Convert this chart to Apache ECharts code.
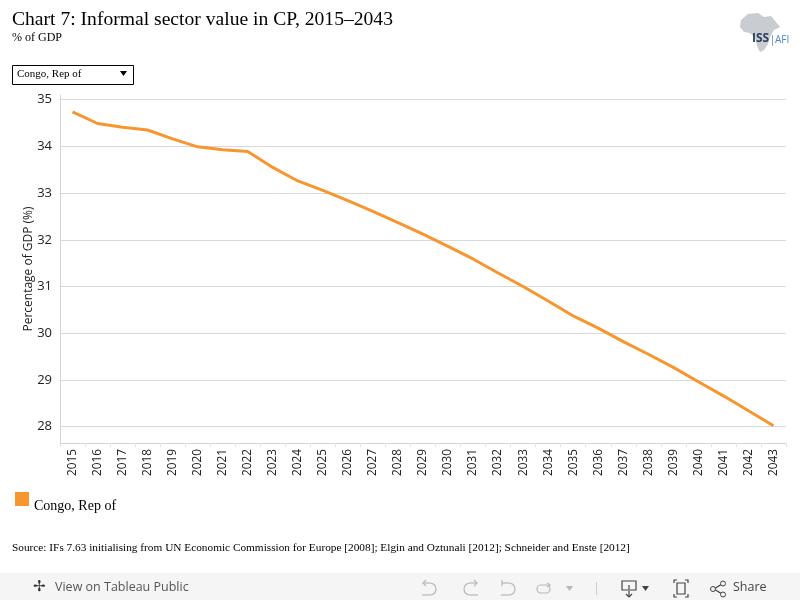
<!DOCTYPE html>
<html>
<head>
<meta charset="utf-8">
<title>Chart 7: Informal sector value in CP, 2015–2043</title>
<script src="https://cdn.jsdelivr.net/npm/echarts@6/dist/echarts.min.js"></script>
<style>
	html, body { margin: 0; padding: 0; background: #fff; }
	#chart { width: 800px; height: 600px; }
</style>
</head>
<body>
<div id="chart"></div>
<script>
// data
var years = ['2015', '2016', '2017', '2018', '2019', '2020', '2021', '2022', '2023', '2024',
	'2025', '2026', '2027', '2028', '2029', '2030', '2031', '2032', '2033', '2034',
	'2035', '2036', '2037', '2038', '2039', '2040', '2041', '2042', '2043'];
var congoValues = [34.74, 34.49, 34.41, 34.35, 34.16, 33.99, 33.93, 33.89, 33.55, 33.26,
	33.06, 32.84, 32.61, 32.37, 32.12, 31.86, 31.59, 31.29, 31.00, 30.69,
	30.37, 30.11, 29.82, 29.55, 29.27, 28.96, 28.66, 28.34, 28.02];
var yTicks = [28, 29, 30, 31, 32, 33, 34, 35];
var seriesName = 'Congo, Rep of';

var serif = '"Liberation Serif", "DejaVu Serif", serif';
var sans = '"Open Sans", "Noto Sans", sans-serif';
var orange = '#f7962f';
var iconGray = '#b8b8b8';
var iconDark = '#444';

// small helpers for toolbar icons
function stroke(color) {
	return { fill: 'none', stroke: color, lineWidth: 1.2 };
}
function pline(points, color) {
	return { type: 'polyline', shape: { points: points }, style: stroke(color) };
}
function arc(cx, cy, r, a0, a1, color) {
	return { type: 'arc', shape: { cx: cx, cy: cy, r: r, startAngle: a0, endAngle: a1, clockwise: true }, style: stroke(color) };
}

var chart = echarts.init(document.getElementById('chart'), null, { renderer: 'canvas' });

// toolbar sits a bit lower than first drawn
var tb = 2;

var option = {
	backgroundColor: '#ffffff',
	animation: false,
	title: [{
		text: 'Chart 7: Informal sector value in CP, 2015–2043',
		left: 12, top: 10, padding: 0,
		textStyle: { fontFamily: serif, fontSize: 19.6, fontWeight: 'normal', color: '#000' }
	}, {
		text: '% of GDP',
		left: 12, top: 32, padding: 0,
		textStyle: { fontFamily: serif, fontSize: 12, fontWeight: 'normal', color: '#000' }
	}, {
		text: 'Source: IFs 7.63 initialising from UN Economic Commission for Europe [2008]; Elgin and Oztunali [2012]; Schneider and Enste [2012]',
		left: 12, top: 543, padding: 0,
		textStyle: { fontFamily: serif, fontSize: 11.3, fontWeight: 'normal', color: '#000' }
	}],
	legend: {
		data: [seriesName],
		left: 15, top: 492, padding: 0,
		itemWidth: 14, itemHeight: 14, itemGap: 4,
		icon: 'rect',
		formatter: '{n|{name}}',
		textStyle: {
			rich: {
				n: { fontFamily: serif, fontSize: 14, color: '#000', padding: [14, 0, 0, 0] }
			}
		}
	},
	grid: { left: 60, right: 14, top: 95, bottom: 157, containLabel: false },
	xAxis: {
		type: 'category',
		data: years,
		boundaryGap: true,
		axisLine: { lineStyle: { color: '#d4d4d4' } },
		axisTick: { show: true, length: 4, lineStyle: { color: '#e4e4e4' } },
		axisLabel: { rotate: 90, margin: 6, fontFamily: sans, fontSize: 11.8, color: '#222', interval: 0 }
	},
	yAxis: {
		type: 'value',
		min: 27.65, max: 35.1,
		name: 'Percentage of GDP (%)',
		nameLocation: 'middle',
		nameGap: 25,
		nameMoveOverlap: false,
		nameTextStyle: { fontFamily: sans, fontSize: 12, color: '#222' },
		axisLine: { show: true, lineStyle: { color: '#d4d4d4' } },
		axisTick: { show: false, customValues: yTicks },
		axisLabel: { customValues: yTicks, margin: 8, fontFamily: sans, fontSize: 13, color: '#222' },
		splitLine: { show: true, lineStyle: { color: '#d9d9d9', width: 1 } }
	},
	series: [{
		name: seriesName,
		type: 'line',
		data: congoValues,
		showSymbol: false,
		symbol: 'none',
		lineStyle: { color: orange, width: 3 },
		itemStyle: { color: orange }
	}],
	graphic: [
		// dropdown filter
		{ type: 'rect', shape: { x: 12.5, y: 65.5, width: 121, height: 19 },
			style: { fill: '#fff', stroke: '#000', lineWidth: 1 } },
		{ type: 'text', x: 17, y: 69,
			style: { text: 'Congo, Rep of', font: '11px ' + serif, fill: '#000' } },
		{ type: 'polygon', shape: { points: [[120, 71], [127, 71], [123.5, 76]] },
			style: { fill: '#000' } },
		// logo
		{ type: 'polygon', shape: {
				points: [[748, 14], [758, 13], [764, 17], [771, 16], [776, 22], [780, 27], [774, 30],
					[770, 37], [768, 44], [764, 50], [760, 52], [757, 46], [755, 38], [750, 33],
					[744, 32], [740, 27], [741, 20]]
			},
			style: { fill: '#c9ccd1' } },
		{ type: 'text', x: 752, y: 33,
			style: { text: 'ISS', font: 'bold 12px ' + sans, fill: '#2b3e5c' } },
		{ type: 'rect', shape: { x: 772, y: 35, width: 1, height: 11 }, style: { fill: '#7fa5c9' } },
		{ type: 'text', x: 775, y: 35,
			style: { text: 'AFI', font: '10px ' + sans, fill: '#4a86c0' } },
		// tableau toolbar
		{ type: 'rect', shape: { x: 0, y: 573, width: 800, height: 27 }, style: { fill: '#f5f5f5' } },
		{ type: 'text', x: 33, y: 578 + tb,
			style: { text: '✢', font: '15px "DejaVu Sans"', fill: '#333' } },
		{ type: 'text', x: 55, y: 579 + tb,
			style: { text: 'View on Tableau Public', font: '12.5px ' + sans, fill: '#555' } },
		{ type: 'group', y: tb, children: [
			// undo
			pline([[426, 578], [423, 581], [426, 584]], iconGray),
			pline([[423, 581], [430, 581]], iconGray),
			arc(430, 587, 6, -Math.PI / 2, Math.PI / 2, iconGray),
			pline([[430, 593], [422, 593]], iconGray),
			// redo
			pline([[474, 578], [477, 581], [474, 584]], iconGray),
			pline([[477, 581], [470, 581]], iconGray),
			arc(470, 587, 6, Math.PI / 2, Math.PI * 1.5, iconGray),
			pline([[470, 593], [478, 593]], iconGray),
			// revert
			pline([[502, 578], [502, 584]], iconGray),
			pline([[502, 581], [509, 581]], iconGray),
			arc(509, 587, 6, -Math.PI / 2, Math.PI / 2, iconGray),
			pline([[509, 593], [501, 593]], iconGray),
			// refresh
			{ type: 'rect', shape: { x: 537, y: 583, width: 13, height: 8, r: 4 }, style: stroke(iconGray) },
			pline([[547, 581], [550, 583], [547, 585]], iconGray),
			{ type: 'polygon', shape: { points: [[566, 584], [573, 584], [569.5, 589]] }, style: { fill: iconGray } },
			{ type: 'rect', shape: { x: 596, y: 580, width: 1, height: 13 }, style: { fill: '#ccc' } },
			// download
			pline([[628, 588], [622, 588], [622, 579], [636, 579], [636, 588], [630, 588]], iconDark),
			pline([[629, 583], [629, 595]], iconDark),
			pline([[626, 592], [629, 595], [632, 592]], iconDark),
			{ type: 'polygon', shape: { points: [[642, 584], [649, 584], [645.5, 589]] }, style: { fill: iconDark } },
			// fit
			pline([[674, 581], [674, 578], [677, 578]], iconDark),
			pline([[685, 578], [688, 578], [688, 581]], iconDark),
			pline([[688, 592], [688, 595], [685, 595]], iconDark),
			pline([[677, 595], [674, 595], [674, 592]], iconDark),
			{ type: 'rect', shape: { x: 677, y: 581, width: 8, height: 11 }, style: stroke(iconDark) },
			// share
			pline([[714, 587], [722, 582]], iconDark),
			pline([[714, 587], [722, 592]], iconDark),
			{ type: 'circle', shape: { cx: 713, cy: 587, r: 2.5 }, style: { fill: '#f5f5f5', stroke: iconDark, lineWidth: 1 } },
			{ type: 'circle', shape: { cx: 723, cy: 581.5, r: 2.5 }, style: { fill: '#f5f5f5', stroke: iconDark, lineWidth: 1 } },
			{ type: 'circle', shape: { cx: 723, cy: 592.5, r: 2.5 }, style: { fill: '#f5f5f5', stroke: iconDark, lineWidth: 1 } },
			{ type: 'text', x: 733, y: 579,
				style: { text: 'Share', font: '12.5px ' + sans, fill: iconDark } }
		] }
	]
};

chart.setOption(option);
</script>
</body>
</html>
